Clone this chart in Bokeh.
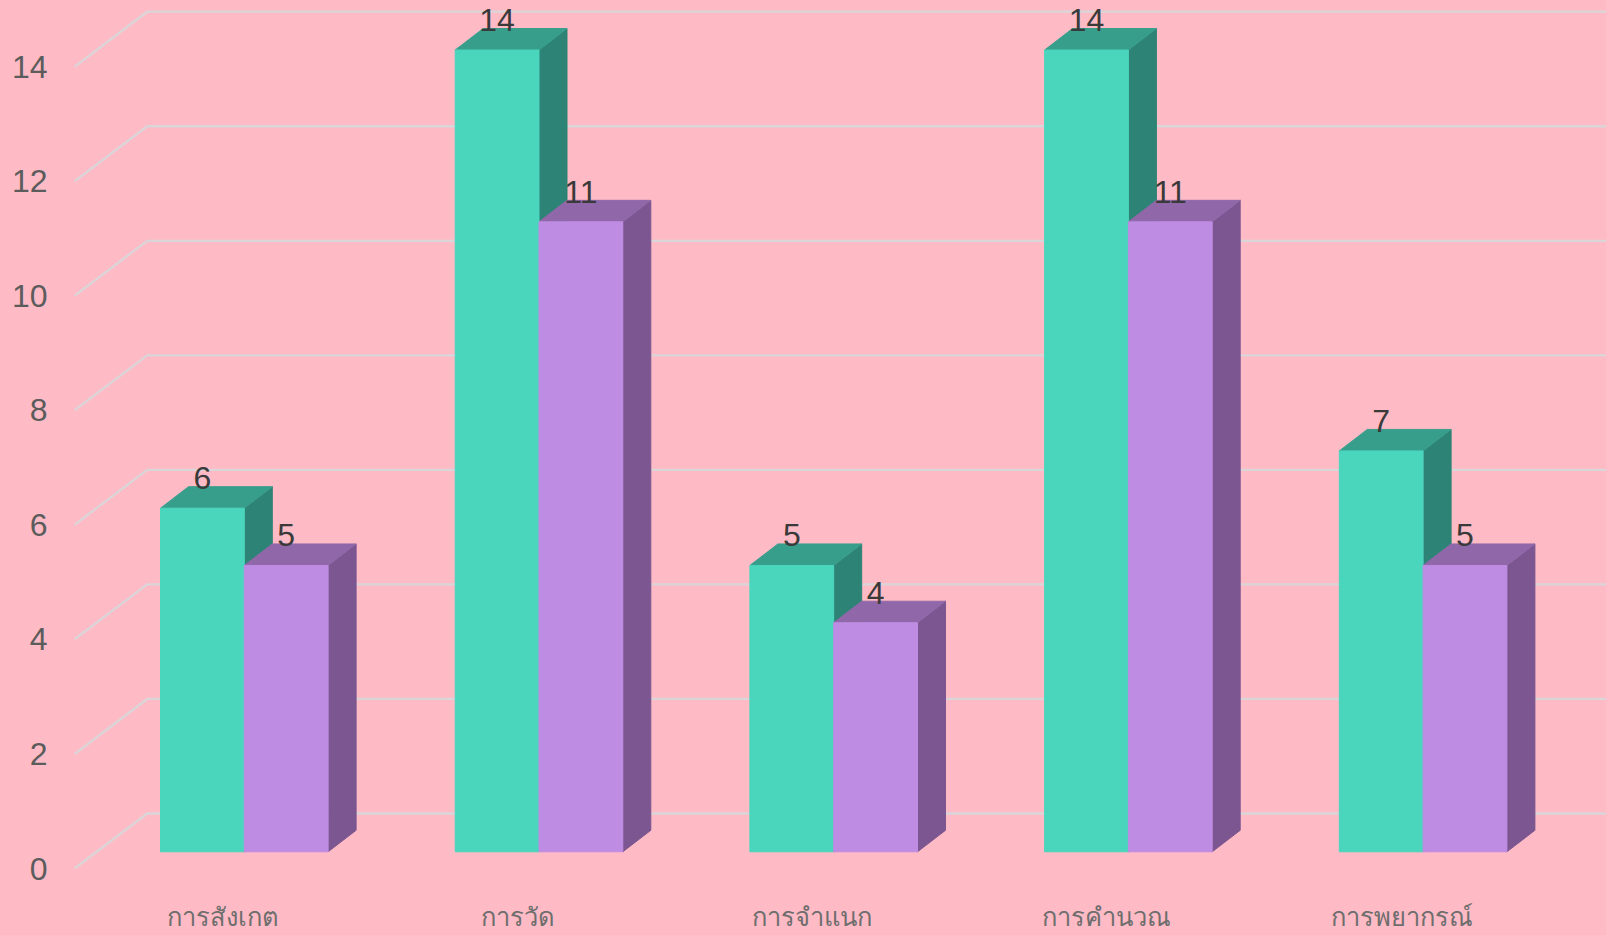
from bokeh.plotting import figure
from bokeh.embed import file_html
from bokeh.resources import INLINE
from bokeh.models import Range1d, FixedTicker
from bokeh.core.properties import value

categories = ["การสังเกต", "การวัด", "การจำแนก", "การคำนวณ", "การพยากรณ์"]
series_a = [6, 14, 5, 14, 7]
series_b = [5, 11, 4, 11, 5]
y_ticks = [0, 2, 4, 6, 8, 10, 12, 14]

W, H = 1606, 935
PX_Y = 57.27
PX_X = 294.7
FRAME_LEFT = 74
FRAME_BOTTOM = 886
FRONT_Y0 = 868.0
FRONT_X0 = 222.3

BG = "#ffbbc5"
A_FRONT, A_TOP, A_SIDE = "#4ad5bd", "#389e8c", "#2d8375"
B_FRONT, B_TOP, B_SIDE = "#bf8ce3", "#9068a9", "#7b5690"

ux = 1 / PX_X
uy = 1 / PX_Y
x_start = (FRAME_LEFT - FRONT_X0) * ux
x_end = (W - FRONT_X0) * ux
y_start = (FRONT_Y0 - FRAME_BOTTOM) * uy
y_end = FRONT_Y0 * uy

p = figure(width=W, height=H, output_backend="svg", toolbar_location=None,
           x_range=Range1d(x_start, x_end), y_range=Range1d(y_start, y_end),
           background_fill_color=BG, background_fill_alpha=0,
           border_fill_color=BG, outline_line_color=None,
           min_border_left=FRAME_LEFT, min_border_right=0, min_border_top=0,
           min_border_bottom=H - FRAME_BOTTOM)
p.styles = {"position": "fixed", "left": "0", "top": "0", "background-color": BG}
p.grid.visible = False

yax = p.yaxis[0]
yax.ticker = FixedTicker(ticks=y_ticks)
yax.axis_line_color = None
yax.major_tick_line_color = None
yax.minor_tick_line_color = None
yax.major_label_standoff = 21
yax.major_label_text_font = "Liberation Sans"
yax.major_label_text_font_size = "32px"
yax.major_label_text_color = "#5c5c5c"

xax = p.xaxis[0]
xax.ticker = FixedTicker(ticks=list(range(len(categories))))
xax.major_label_overrides = {i: c for i, c in enumerate(categories)}
xax.axis_line_color = None
xax.major_tick_line_color = None
xax.minor_tick_line_color = None
xax.major_label_standoff = 10
xax.major_label_text_font = "Liberation Sans"
xax.major_label_text_font_size = "25.5px"
xax.major_label_text_color = "#6e6e6e"

# gridlines: diagonal from front plane, then flat along the back wall
GRID_DX = 72.7 * ux
GRID_DY = 55.0 * uy
p.multi_line(xs=[[x_start, x_start + GRID_DX, x_end] for _ in y_ticks],
             ys=[[v, v + GRID_DY, v + GRID_DY] for v in y_ticks],
             line_color="#d9d5d8", line_width=2.3)

# bars
BAR_W = 83.8 * ux
BAR_OFF = (160.0 - FRONT_X0) * ux
BASE = 16.7 * uy
DX = 28.0 * ux
DY = 21.5 * uy

def bar(left, val, front, top, side):
    right = left + BAR_W
    y1 = val + BASE
    p.patch([right, right + DX, right + DX, right], [BASE, BASE + DY, y1 + DY, y1],
            fill_color=side, line_color=side, line_width=1)
    p.patch([left, left + DX, right + DX, right], [y1, y1 + DY, y1 + DY, y1],
            fill_color=top, line_color=top, line_width=1)
    p.quad(left=[left], right=[right], bottom=[BASE], top=[y1],
           fill_color=front, line_color=front, line_width=1)

for i, (a, b) in enumerate(zip(series_a, series_b)):
    bar(i + BAR_OFF, a, A_FRONT, A_TOP, A_SIDE)
    bar(i + BAR_OFF + BAR_W, b, B_FRONT, B_TOP, B_SIDE)

# data labels
lx = [i + BAR_OFF + BAR_W / 2 for i in range(len(categories))]
lx2 = [i + BAR_OFF + BAR_W * 1.5 for i in range(len(categories))]
LABEL_Y = (17.0 + 16.5 + 13.3) * uy
p.text(x=lx, y=[v + LABEL_Y for v in series_a], text=[str(v) for v in series_a],
       text_font=value("Liberation Sans"), text_font_size=value("32px"),
       text_color="#3a3a3a", text_align="center", text_baseline="middle")
p.text(x=lx2, y=[v + LABEL_Y for v in series_b], text=[str(v) for v in series_b],
       text_font=value("Liberation Sans"), text_font_size=value("32px"),
       text_color="#3a3a3a", text_align="center", text_baseline="middle")

open("out.html", "w").write(file_html(p, INLINE))
